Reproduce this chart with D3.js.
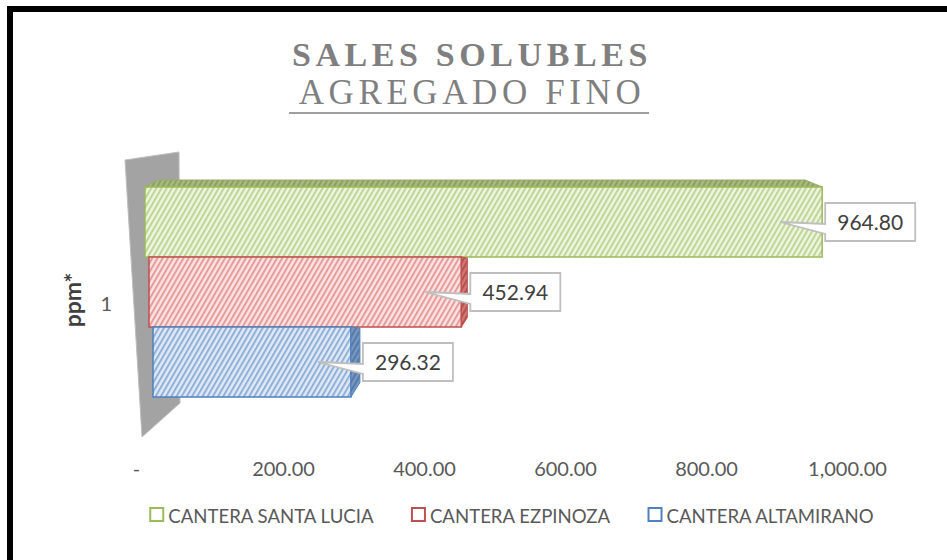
<!DOCTYPE html>
<html>
<head>
<meta charset="utf-8">
<script src="https://cdn.jsdelivr.net/npm/d3@7"></script>
<style>
  body { margin: 0; background: #fff; }
  text { font-family: Lato, "Open Sans", sans-serif; }
</style>
</head>
<body>
<div id="chart"></div>
<script>
// data
var categories = ["1"];
var seriesNames = ["CANTERA SANTA LUCIA", "CANTERA EZPINOZA", "CANTERA ALTAMIRANO"];
var santaLucia = [964.80];
var ezpinoza = [452.94];
var altamirano = [296.32];
var xTicks = [0, 200, 400, 600, 800, 1000];

var svgWidth = 947;
var svgHeight = 560;

var colors = [
  { line: "#9bbb59", bg: "#eef5e1", hatch: "#bfd594", topBg: "#a9ba80", topHatch: "#8ba05f" },
  { line: "#c0504d", bg: "#fbe3e3", hatch: "#e59b9a", sideBg: "#d27674", sideHatch: "#b4504d" },
  { line: "#4f81bd", bg: "#e0e9f5", hatch: "#8fb0d8", sideBg: "#7797c2", sideHatch: "#557aa8" }
];
// small perspective tweaks per series (3d look of the original)
var insets = [3, 7, 11];
var sideDepth = [0, 6, 9];

var svg = d3.select("#chart")
  .append("svg")
  .attr("width", svgWidth)
  .attr("height", svgHeight);

var defs = svg.append("defs");
function hatch(id, bg, fg) {
  var p = defs.append("pattern")
    .attr("id", id)
    .attr("patternUnits", "userSpaceOnUse")
    .attr("width", 4.5)
    .attr("height", 5)
    .attr("patternTransform", "rotate(30)");
  p.append("rect").attr("width", 4.5).attr("height", 5).attr("fill", bg);
  p.append("rect").attr("width", 2).attr("height", 5).attr("fill", fg);
}
colors.forEach(function(c, i) {
  hatch("h" + i, c.bg, c.hatch);
  if (c.topBg) hatch("t" + i, c.topBg, c.topHatch);
  if (c.sideBg) hatch("s" + i, c.sideBg, c.sideHatch);
});

svg.append("rect").attr("width", svgWidth).attr("height", svgHeight).attr("fill", "#fff");

// frame (only left and top edges are inside the picture)
svg.append("path")
  .attr("d", "M10,570 L10,9 L960,9")
  .attr("fill", "none")
  .attr("stroke", "#000")
  .attr("stroke-width", 6)
  .attr("stroke-linejoin", "miter");

// title
var title = svg.append("text")
  .attr("text-anchor", "middle")
  .style("font-family", "'Liberation Serif', 'Times New Roman', serif")
  .style("fill", "#7f7f7f");
title.append("tspan")
  .attr("x", 472).attr("y", 66)
  .style("font-size", "34px")
  .style("font-weight", "bold")
  .style("letter-spacing", "4.6px")
  .text("SALES SOLUBLES");
title.append("tspan")
  .attr("x", 472).attr("y", 104)
  .style("font-size", "35px")
  .style("letter-spacing", "4.6px")
  .text("AGREGADO FINO");
svg.append("line")
  .attr("x1", 289).attr("x2", 649)
  .attr("y1", 113).attr("y2", 113)
  .attr("stroke", "#7f7f7f")
  .attr("stroke-width", 1.5);

var table = categories.map(function(c, i) {
  return { cat: c, values: [santaLucia[i], ezpinoza[i], altamirano[i]] };
});

var x = d3.scaleLinear()
  .domain([0, 1000])
  .range([142, 847]);

var yCat = d3.scaleBand()
  .domain(categories)
  .range([187, 397])
  .padding(0);

var ySer = d3.scaleBand()
  .domain(seriesNames)
  .range([0, yCat.bandwidth()]);

// back wall
var x0 = x(0);
var wallTop = yCat.range()[0] - 35;
var wallBot = yCat.range()[1] + 40;
svg.append("polygon")
  .attr("points", [
    [x0 - 17, wallTop + 8], [x0 + 37, wallTop], [x0 + 38, wallBot - 34], [x0, wallBot]
  ].join(" "))
  .attr("fill", "#a3a3a3")
  .attr("stroke", "#bdbdbd")
  .attr("stroke-width", 1);

// bars
table.forEach(function(row) {
  var g = svg.append("g").attr("transform", "translate(0," + yCat(row.cat) + ")");
  row.values.forEach(function(v, i) {
    var top = ySer(seriesNames[i]);
    var bot = top + ySer.bandwidth();
    var left = x0 + insets[i];
    var right = x(v);
    if (i === 0) {
      g.append("polygon")
        .attr("points", [[left, top], [left + 13, top - 7], [right - 17, top - 7], [right, top]].join(" "))
        .attr("fill", "url(#t0)")
        .attr("stroke", "#98ac6c")
        .attr("stroke-width", 1);
    }
    g.append("rect")
      .attr("x", left)
      .attr("y", top)
      .attr("width", right - left)
      .attr("height", bot - top)
      .attr("fill", "url(#h" + i + ")")
      .attr("stroke", colors[i].line)
      .attr("stroke-width", 1.5);
    if (sideDepth[i] > 0) {
      var d = sideDepth[i];
      g.append("polygon")
        .attr("points", [[right, top], [right + d, top + 1], [right + d, bot - d * 1.6], [right, bot]].join(" "))
        .attr("fill", "url(#s" + i + ")")
        .attr("stroke", colors[i].line)
        .attr("stroke-width", 1);
    }
  });
});

// data callouts
table.forEach(function(row) {
  row.values.forEach(function(v, i) {
    var cy = yCat(row.cat) + ySer(seriesNames[i]) + ySer.bandwidth() / 2;
    var L = x(v) + sideDepth[i] + 3;
    var T = cy - 19;
    var W = 90, H = 38;
    var tipX = L - 45;
    var path = "M" + L + "," + T + " H" + (L + W) + " V" + (T + H) + " H" + L +
      " V" + (T + 31) + " L" + tipX + "," + cy + " L" + L + "," + (T + 21) + " Z";
    svg.append("path")
      .attr("d", path)
      .attr("fill", "#fff")
      .attr("stroke", "#bfbfbf")
      .attr("stroke-width", 1.8);
    svg.append("text")
      .attr("x", L + W / 2)
      .attr("y", cy + 7.5)
      .attr("text-anchor", "middle")
      .style("font-size", "21px")
      .style("fill", "#404040")
      .text(d3.format(",.2f")(v));
  });
});

// x axis, labels only
var fmt = d3.format(",.2f");
var xAxis = d3.axisBottom(x)
  .tickValues(xTicks)
  .tickSize(0)
  .tickPadding(10)
  .tickFormat(function(d) { return d === 0 ? "-" : fmt(d); });

var axisG = svg.append("g")
  .attr("transform", "translate(0,452)")
  .call(xAxis);
axisG.select(".domain").remove();
axisG.selectAll("text")
  .style("font-family", "Lato, sans-serif")
  .style("font-size", "20px")
  .style("fill", "#595959")
  .attr("dx", function(d) { return d === 0 ? -6 : 0; });

// category label and axis title
svg.append("text")
  .attr("x", 112)
  .attr("y", yCat("1") + yCat.bandwidth() / 2 + 19)
  .attr("text-anchor", "end")
  .style("font-size", "20px")
  .style("fill", "#595959")
  .text(categories[0]);

svg.append("text")
  .attr("transform", "translate(81,300) rotate(-90)")
  .attr("text-anchor", "middle")
  .style("font-size", "23px")
  .style("font-weight", "bold")
  .style("fill", "#404040")
  .text("ppm*");

// legend
var legend = svg.append("g").attr("transform", "translate(0,515)");
var items = legend.selectAll("g")
  .data(seriesNames)
  .enter()
  .append("g");
items.append("rect")
  .attr("y", -7)
  .attr("width", 13)
  .attr("height", 13)
  .attr("fill", "#fff")
  .attr("stroke", function(d, i) { return colors[i].line; })
  .attr("stroke-width", 2);
items.append("text")
  .attr("x", 18)
  .attr("y", 7.5)
  .style("font-size", "18.6px")
  .style("fill", "#595959")
  .text(function(d) { return d; });

var gap = 38;
var widths = [];
items.each(function() { widths.push(this.getBBox().width); });
var total = d3.sum(widths) + gap * (widths.length - 1);
var cursor = 512 - total / 2;
items.attr("transform", function(d, i) {
  var t = "translate(" + cursor + ",0)";
  cursor += widths[i] + gap;
  return t;
});
</script>
</body>
</html>
